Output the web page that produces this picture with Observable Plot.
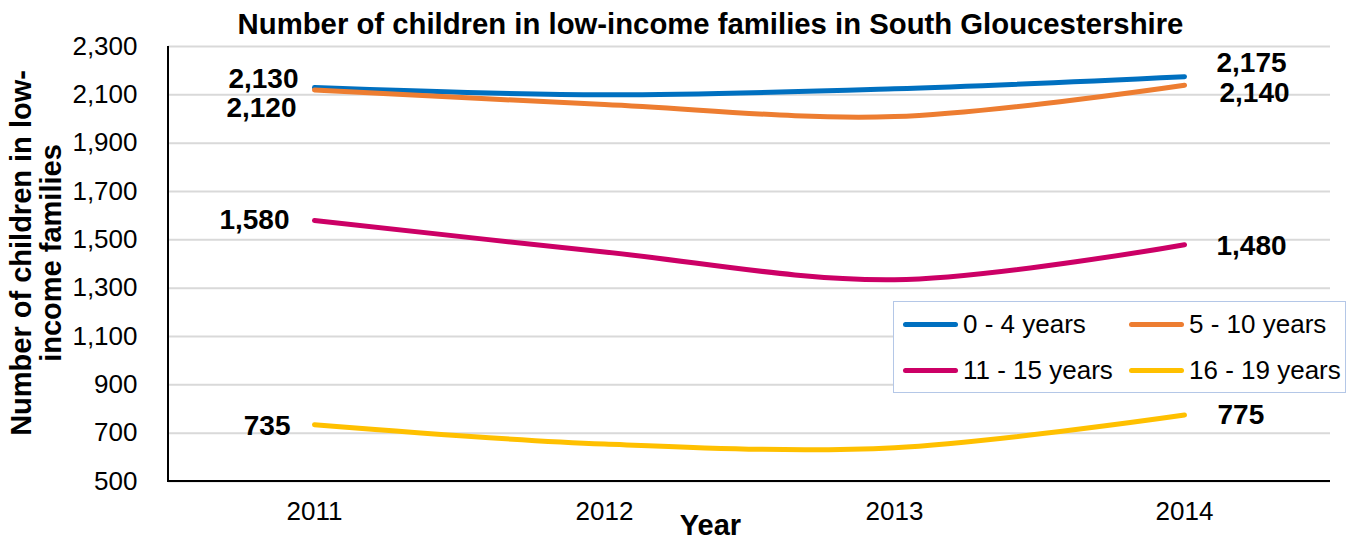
<!DOCTYPE html>
<html><head><meta charset="utf-8">
<script src="https://cdn.jsdelivr.net/npm/d3@7"></script>
<script src="https://cdn.jsdelivr.net/npm/@observablehq/plot@0.6"></script>
<style>
body{margin:0;background:#fff;font-family:"Liberation Sans",Arial,sans-serif;}
#wrap{position:relative;width:1347px;height:540px;overflow:hidden;}
.legend{position:absolute;left:893px;top:301px;width:453px;height:92px;border:1.5px solid #b4c7e7;box-sizing:border-box;background:#fff;}
.item{position:absolute;display:flex;align-items:center;font-size:26px;line-height:30px;color:#000;white-space:nowrap;transform:translateY(-50%);}
.sw{width:55px;height:5px;border-radius:3px;margin-right:5px;}
</style></head>
<body><div id="wrap"></div>
<script>
const years = ["2011", "2012", "2013", "2014"];
const seriesNames = ["0 - 4 years", "5 - 10 years", "11 - 15 years", "16 - 19 years"];
const seriesColors = ["#0070c0", "#ed7d31", "#cc0066", "#ffc000"];
const age0to4 = [2130, 2100, 2125, 2175];
const age5to10 = [2120, 2060, 2010, 2140];
const age11to15 = [1580, 1450, 1335, 1480];
const age16to19 = [735, 655, 640, 775];
const yTicks = [500, 700, 900, 1100, 1300, 1500, 1700, 1900, 2100, 2300];

const allValues = [age0to4, age5to10, age11to15, age16to19];
const rows = [];
allValues.forEach((vals, si) => vals.forEach((v, i) => rows.push({series: seriesNames[si], year: years[i], value: v, idx: i, si})));

const startDx = [-16, -18, -25, -24];
const startDy = [-9, 18, 0, 1];
const endDx = [32, 35, 32, 33];
const endDy = [-14, 8, 1, 0];
const fmt = d3.format(",");

const labelMarks = [];
rows.filter(d => d.idx === 0).forEach(d => labelMarks.push(Plot.text([d], {x: "year", y: "value", text: r => fmt(r.value), textAnchor: "end", dx: startDx[d.si], dy: startDy[d.si], fontSize: 28, fontWeight: "bold", fill: "#000"})));
rows.filter(d => d.idx === years.length - 1).forEach(d => labelMarks.push(Plot.text([d], {x: "year", y: "value", text: r => fmt(r.value), textAnchor: "start", dx: endDx[d.si], dy: endDy[d.si], fontSize: 28, fontWeight: "bold", fill: "#000"})));

const chart = Plot.plot({
  width: 1347, height: 540,
  marginLeft: 168, marginRight: 17, marginTop: 46, marginBottom: 59,
  style: {fontFamily: "'Liberation Sans', Arial, sans-serif", fontSize: "26px", background: "#fff", overflow: "visible", color: "#000"},
  x: {type: "point", domain: years, padding: 0.5, label: null},
  y: {domain: [500, 2300], label: null},
  marks: [
    Plot.ruleY(yTicks, {stroke: "#d9d9d9", strokeWidth: 2}),
    Plot.axisY({ticks: yTicks, tickFormat: d => fmt(d), tickSize: 0, tickPadding: 31, label: null}),
    Plot.axisX({tickSize: 0, tickPadding: 20, label: null}),
    Plot.line(rows, {x: "year", y: "value", z: "series", stroke: d => seriesColors[d.si], strokeWidth: 5, curve: "catmull-rom", strokeLinecap: "round"}),
    ...labelMarks,
    Plot.text(["Number of children in low-income families in South Gloucestershire"], {frameAnchor: "top", dx: -39, dy: -33, fontSize: 29.3, fontWeight: "bold", fill: "#000"}),
    Plot.text(["Year"], {frameAnchor: "bottom", dx: -39, dy: 53, fontSize: 29, fontWeight: "bold", fill: "#000"}),
    Plot.text(["Number of children in low-\nincome families"], {frameAnchor: "left", textAnchor: "middle", rotate: -90, dx: -132, dy: -11, fontSize: 29, fontWeight: "bold", lineHeight: 1.04, fill: "#000"})
  ]
});
const wrap = document.getElementById("wrap");
wrap.appendChild(chart);
const svg = d3.select(chart);
svg.selectAll("g[aria-label='y-axis tick label'] text, g[aria-label='x-axis tick label'] text").attr("font-size", 26);
svg.append("line").attr("x1", 168).attr("x2", 168).attr("y1", 46).attr("y2", 482).attr("stroke", "#000").attr("stroke-width", 2);
svg.append("line").attr("x1", 167).attr("x2", 1330).attr("y1", 481).attr("y2", 481).attr("stroke", "#000").attr("stroke-width", 2);

const legend = document.createElement("div");
legend.className = "legend";
const pos = [[9, 22], [235, 22], [9, 68], [235, 68]];
seriesNames.forEach((n, i) => {
  const it = document.createElement("div");
  it.className = "item";
  it.style.left = pos[i][0] + "px";
  it.style.top = pos[i][1] + "px";
  it.innerHTML = `<span class="sw" style="background:${seriesColors[i]}"></span><span>${n}</span>`;
  legend.appendChild(it);
});
wrap.appendChild(legend);
</script></body></html>
